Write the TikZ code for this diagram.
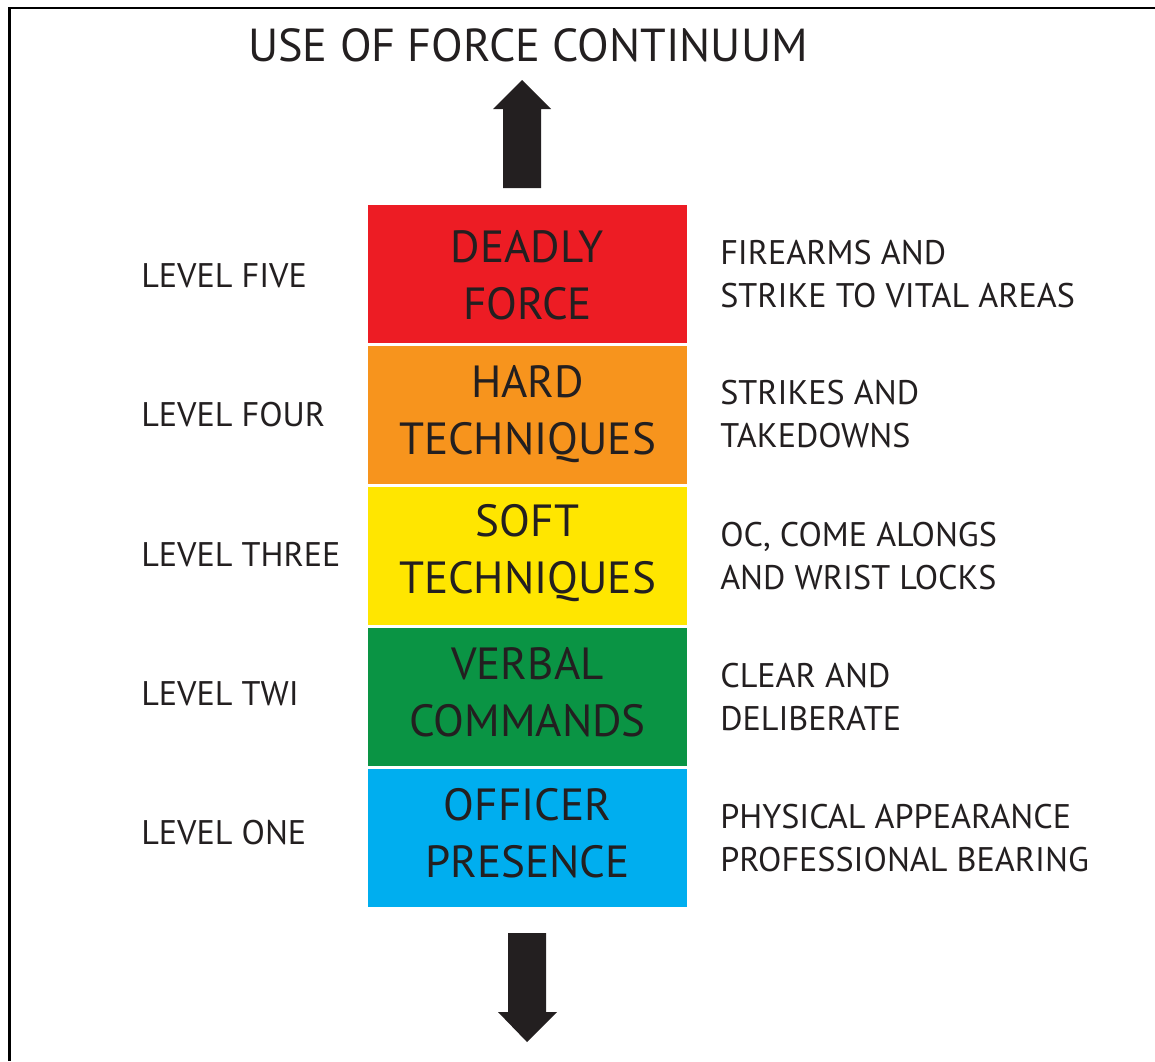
\documentclass[tikz,border=0pt]{standalone}
\usepackage{fontspec}
\setmainfont{PT Sans}
\usepackage{xcolor}

\definecolor{forceRed}{RGB}{237,28,36}
\definecolor{forceOrange}{RGB}{247,148,29}
\definecolor{forceYellow}{RGB}{255,230,0}
\definecolor{forceGreen}{RGB}{10,148,68}
\definecolor{forceBlue}{RGB}{0,174,239}
\definecolor{inkText}{RGB}{35,31,32}

\tikzset{
  titleText/.style={inner sep=0.75pt, text=inkText, font=\fontsize{34.7}{40}\selectfont},
  boxText/.style={inner sep=0.75pt, text=inkText, align=center, font=\fontsize{33.8}{42.5}\selectfont},
  levelText/.style={anchor=west, inner sep=0.75pt, text=inkText, font=\fontsize{25.6}{30}\selectfont},
  descText/.style={anchor=west, inner sep=0.75pt, text=inkText, align=left, font=\fontsize{25.6}{32.5}\selectfont}
}

\begin{document}
\begin{tikzpicture}[x=0.75pt,y=0.75pt,yscale=-1,xscale=1]
\useasboundingbox (0,0) rectangle (1155,1061);

%Frame
    \draw [line width=2.2pt] (9.5,1061) -- (9.5,8) -- (1155,8) ;

%Up Arrow
    \fill [inkText] (522,80) -- (551,109) -- (541,109) -- (541,188) -- (503,188) -- (503,109) -- (493,109) -- cycle ;
%Down Arrow
    \fill [inkText] (527,1042) -- (557,1012) -- (546,1012) -- (546,933) -- (508,933) -- (508,1012) -- (498,1012) -- cycle ;

%Rect
    \fill [forceRed] (368,205) rectangle (687,343) ;
%Rect
    \fill [forceOrange] (368,346) rectangle (687,484) ;
%Rect
    \fill [forceYellow] (368,487) rectangle (687,625) ;
%Rect
    \fill [forceGreen] (368,628) rectangle (687,766) ;
%Rect
    \fill [forceBlue] (368,769) rectangle (687,907) ;

% Title
    \node [titleText] (title) at (528,45) {USE OF FORCE CONTINUUM};

% Box Text
    \node [boxText] (deadly) at (527.5,275) {DEADLY\\FORCE};
    \node [boxText] (hard) at (527.5,414) {HARD\\TECHNIQUES};
    \node [boxText] (soft) at (527.5,553) {SOFT\\TECHNIQUES};
    \node [boxText] (verbal) at (527.5,692) {VERBAL\\COMMANDS};
    \node [boxText] (officer) at (527.5,833) {OFFICER\\PRESENCE};

% Level Text
    \node [levelText] (lvlFive) at (140,276) {LEVEL FIVE};
    \node [levelText] (lvlFour) at (140,415) {LEVEL FOUR};
    \node [levelText] (lvlThree) at (140,555) {LEVEL THREE};
    \node [levelText] (lvlTwo) at (140,694) {LEVEL TWI};
    \node [levelText] (lvlOne) at (140,833) {LEVEL ONE};

% Description Text
    \node [descText] (descFive) at (719,274) {FIREARMS AND\\STRIKE TO VITAL AREAS};
    \node [descText] (descFour) at (719,414) {STRIKES AND\\TAKEDOWNS};
    \node [descText] (descThree) at (719,556) {OC, COME ALONGS\\AND WRIST LOCKS};
    \node [descText] (descTwo) at (719,697) {CLEAR AND\\DELIBERATE};
    \node [descText] (descOne) at (719,838) {PHYSICAL APPEARANCE\\PROFESSIONAL BEARING};

\end{tikzpicture}
\end{document}
